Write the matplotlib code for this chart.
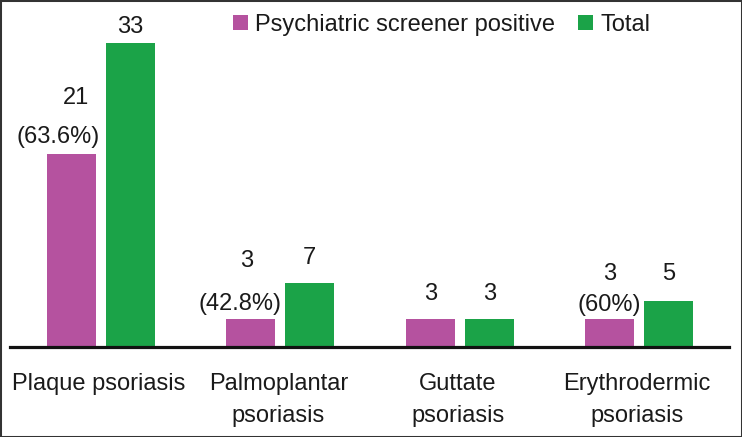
import matplotlib
matplotlib.use("Agg")
import matplotlib.pyplot as plt
from matplotlib.patches import Rectangle, Patch
import numpy as np

categories = ["Plaque psoriasis", "Palmoplantar\npsoriasis", "Guttate\npsoriasis", "Erythrodermic\npsoriasis"]
positive = [21, 3, 3, 3]
total = [33, 7, 3, 5]
positive_pct = ["(63.6%)", "(42.8%)", "", "(60%)"]
series_names = ["Psychiatric screener positive", "Total"]

C_POS = "#B5529F"
C_TOT = "#1BA348"
FS = 17
TXT = "#1a1a1a"

plt.rcParams['font.family'] = ['Liberation Sans', 'DejaVu Sans']

W, H, DPI = 742, 437, 100
fig = plt.figure(figsize=(W / DPI, H / DPI), dpi=DPI)
base_px = 347
ax = fig.add_axes([10 / W, (H - base_px) / H, (729 - 10) / W, base_px / H])

x = np.arange(len(categories))
bw = 0.273
off = 0.1645
ax.bar(x - off, positive, bw, color=C_POS, zorder=2)
ax.bar(x + off, total, bw, color=C_TOT, zorder=2)

ax.set_xlim(-0.5075, 3.502)
ax.set_ylim(0, 347 / 9.212)

for s in ["top", "left", "right"]:
    ax.spines[s].set_visible(False)
ax.spines["bottom"].set_linewidth(2.3)
ax.spines["bottom"].set_color("#111111")
ax.set_xticks([])
ax.set_yticks([])

# value label offsets in pixels (number and percent)
num_off_pos = [(4.5, 56), (-4, 58), (0, 25), (0, 45)]
pct_off_pos = [(-13, 17), (-11, 15), (0, 0), (0, 14)]
num_off_tot = [(0, 16), (0, 25), (0, 25), (0, 27)]
for i in range(len(categories)):
    ax.annotate(str(positive[i]), xy=(x[i] - off, positive[i]), xytext=num_off_pos[i],
                textcoords="offset pixels", ha="center", va="center", fontsize=FS, color=TXT)
    if positive_pct[i]:
        ax.annotate(positive_pct[i], xy=(x[i] - off, positive[i]), xytext=pct_off_pos[i],
                    textcoords="offset pixels", ha="center", va="center", fontsize=FS, color=TXT)
    ax.annotate(str(total[i]), xy=(x[i] + off, total[i]), xytext=num_off_tot[i],
                textcoords="offset pixels", ha="center", va="center", fontsize=FS, color=TXT)

# category labels
for i, cat in enumerate(categories):
    for j, line in enumerate(cat.split("\n")):
        ax.annotate(line, xy=(x[i], 0), xycoords=("data", "axes fraction"),
                    xytext=(-2, -37 - 32 * j), textcoords="offset pixels",
                    ha="center", va="center", fontsize=FS, color=TXT, annotation_clip=False)

handles = [Patch(facecolor=C_POS), Patch(facecolor=C_TOT)]
fig.legend(handles, series_names, loc="center left", bbox_to_anchor=(233 / W, 1 - 25 / H),
           ncol=2, frameon=False, fontsize=FS, handlelength=0.62, handleheight=0.62,
           handletextpad=0.3, columnspacing=1.0, borderpad=0, borderaxespad=0,
           labelcolor=TXT)

fig.patches.append(Rectangle((0, 0), 1, 1, transform=fig.transFigure, fill=False,
                             edgecolor="#333333", linewidth=2.2))

fig.savefig("out.png", dpi=DPI)
